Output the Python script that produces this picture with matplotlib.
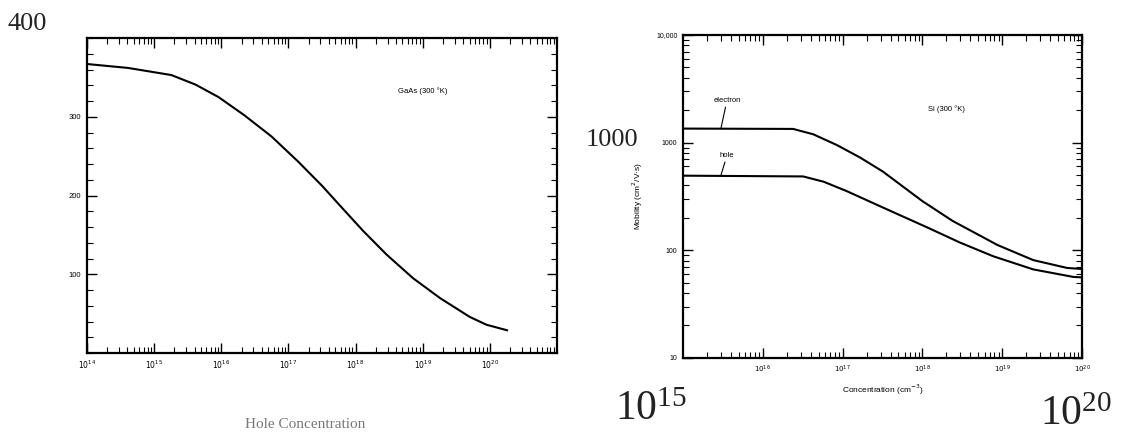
import numpy as np
import matplotlib
matplotlib.use("Agg")
import matplotlib.pyplot as plt
from matplotlib.ticker import LogLocator, MultipleLocator, FixedLocator, NullFormatter, FixedFormatter

# ---- Data: GaAs hole mobility (left) ----
gaas_conc = [1e14, 4.1e14, 1.8e15, 4.1e15, 9.1e15, 2.2e16, 5.6e16, 1.4e17, 3.2e17,
             5.9e17, 1.3e18, 2.9e18, 7.2e18, 1.8e19, 5.0e19, 8.9e19, 1.8e20]
gaas_mob = [367, 362, 353, 341, 325, 302, 275, 243, 212,
            187, 155, 125, 95, 70, 46, 36, 29]
gaas_xticks = [1e14, 1e15, 1e16, 1e17, 1e18, 1e19, 1e20]
gaas_xlabels = ["$10^{14}$", "$10^{15}$", "$10^{16}$", "$10^{17}$", "$10^{18}$", "$10^{19}$", "$10^{20}$"]
gaas_yticks = [100, 200, 300]

# ---- Data: Si electron / hole mobility (right) ----
si_e_conc = [1e15, 2.4e16, 4.3e16, 8.5e16, 1.66e17, 3.2e17, 1.0e18, 2.4e18, 8.7e18, 2.45e19, 6.5e19, 1e20]
si_e_mob = [1350, 1340, 1194, 948, 726, 538, 286, 187, 112, 81, 68.5, 67]
si_h_conc = [1e15, 3.2e16, 5.8e16, 1.12e17, 1.66e17, 4.3e17, 1.15e18, 2.95e18, 7.7e18, 2.45e19, 7.8e19, 1e20]
si_h_mob = [493, 485, 433, 355, 311, 226, 163, 118, 88, 66.4, 56.5, 56]
si_xticks = [1e16, 1e17, 1e18, 1e19, 1e20]
si_xlabels = ["$10^{16}$", "$10^{17}$", "$10^{18}$", "$10^{19}$", "$10^{20}$"]
si_yticks = [10, 100, 1000, 10000]
si_ylabels = ["10", "100", "1000", "10,000"]

fig = plt.figure(figsize=(11.33, 4.37), dpi=100)

def style(ax):
    for s in ax.spines.values():
        s.set_linewidth(1.6)
    ax.tick_params(which="both", direction="in", top=True, right=True, colors="black")
    ax.tick_params(which="major", length=7, width=1.0, labelsize=5.5, pad=4)
    ax.tick_params(which="minor", length=4, width=0.8)

# Left panel
ax1 = fig.add_axes([0.0768, 0.192, 0.4148, 0.721])
ax1.plot(gaas_conc, gaas_mob, color="black", lw=1.5, solid_joinstyle="round")
ax1.set_xscale("log")
ax1.set_xlim(1e14, 1e21)
ax1.set_ylim(0, 400)
ax1.xaxis.set_major_locator(FixedLocator(gaas_xticks))
ax1.xaxis.set_major_formatter(FixedFormatter(gaas_xlabels))
ax1.xaxis.set_minor_locator(LogLocator(base=10, subs=np.arange(2, 10), numticks=20))
ax1.xaxis.set_minor_formatter(NullFormatter())
ax1.yaxis.set_major_locator(FixedLocator(gaas_yticks))
ax1.yaxis.set_minor_locator(MultipleLocator(20))
style(ax1)
for lab in ax1.get_xticklabels() + ax1.get_yticklabels():
    lab.set_fontfamily("Liberation Sans")
    lab.set_fontsize(5.5)
ax1.text(0.715, 0.83, "GaAs (300 °K)", transform=ax1.transAxes, fontsize=5.5,
         family="Liberation Sans", ha="center", va="center")
fig.text(8 / 1133, 1 - 24 / 437, "400", fontsize=19, family="Liberation Serif",
         ha="left", va="center", color="#222222")
fig.text(305 / 1133, 1 - 425 / 437, "Hole Concentration", fontsize=11,
         family="Liberation Serif", ha="center", va="center", color="#777777")

# Right panel
ax2 = fig.add_axes([0.6028, 0.181, 0.3522, 0.739])
ax2.plot(si_e_conc, si_e_mob, color="black", lw=1.5, solid_joinstyle="round")
ax2.plot(si_h_conc, si_h_mob, color="black", lw=1.5, solid_joinstyle="round")
ax2.set_xscale("log")
ax2.set_yscale("log")
ax2.set_xlim(1e15, 1e20)
ax2.set_ylim(10, 10000)
ax2.xaxis.set_major_locator(FixedLocator(si_xticks))
ax2.xaxis.set_major_formatter(FixedFormatter(si_xlabels))
ax2.xaxis.set_minor_locator(LogLocator(base=10, subs=np.arange(2, 10), numticks=20))
ax2.xaxis.set_minor_formatter(NullFormatter())
ax2.yaxis.set_major_locator(FixedLocator(si_yticks))
ax2.yaxis.set_major_formatter(FixedFormatter(si_ylabels))
ax2.yaxis.set_minor_locator(LogLocator(base=10, subs=np.arange(2, 10), numticks=20))
ax2.yaxis.set_minor_formatter(NullFormatter())
style(ax2)
for lab in ax2.get_xticklabels() + ax2.get_yticklabels():
    lab.set_fontfamily("Liberation Sans")
    lab.set_fontsize(5)
ax2.set_xlabel("Concentration (cm$^{-3}$)", fontsize=6, family="Liberation Sans", labelpad=6)
ax2.set_ylabel("Mobility (cm$^2$/V·s)", fontsize=6, family="Liberation Sans", labelpad=8)
ax2.annotate("electron", xy=(0.095, 0.71), xytext=(0.11, 0.785), textcoords="axes fraction",
             xycoords="axes fraction", fontsize=5.5, family="Liberation Sans", ha="center",
             va="bottom", arrowprops=dict(arrowstyle="-", lw=0.8, color="black", shrinkA=0, shrinkB=0))
ax2.annotate("hole", xy=(0.095, 0.565), xytext=(0.11, 0.615), textcoords="axes fraction",
             xycoords="axes fraction", fontsize=5.5, family="Liberation Sans", ha="center",
             va="bottom", arrowprops=dict(arrowstyle="-", lw=0.8, color="black", shrinkA=0, shrinkB=0))
ax2.text(0.66, 0.77, "Si (300 °K)", transform=ax2.transAxes, fontsize=5.5,
         family="Liberation Sans", ha="center", va="center")

fig.text(586 / 1133, 1 - 140 / 437, "1000", fontsize=19, family="Liberation Serif",
         ha="left", va="center", color="#222222")
fig.text(615 / 1133, 1 - 410 / 437, "$\\mathregular{10^{15}}$", fontsize=30,
         family="Liberation Serif", ha="left", va="center", color="#222222")
fig.text(1040 / 1133, 1 - 415 / 437, "$\\mathregular{10^{20}}$", fontsize=30,
         family="Liberation Serif", ha="left", va="center", color="#222222")

fig.savefig("out.png", dpi=100, facecolor="white")
